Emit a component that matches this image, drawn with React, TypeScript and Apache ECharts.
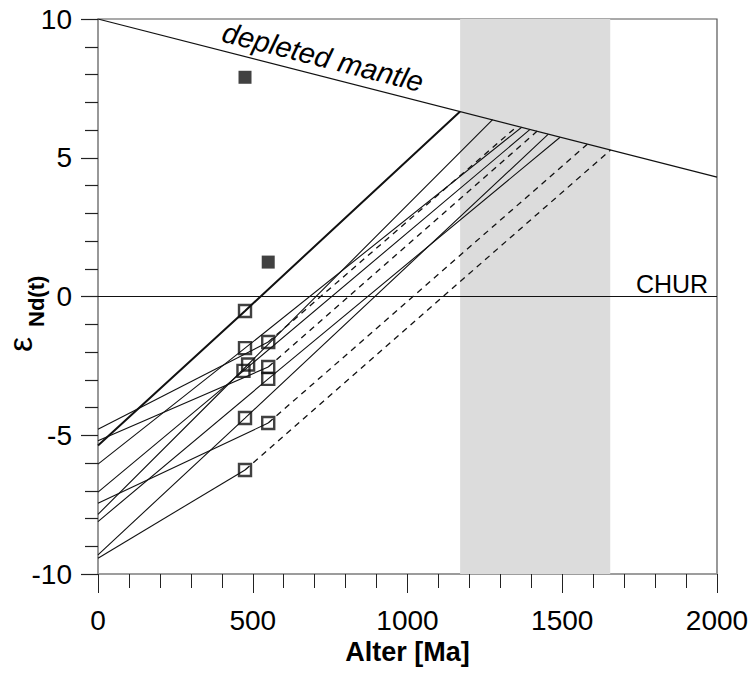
import React, { useEffect, useRef } from "react";
import * as echarts from "echarts";

// Sample data (Ma, epsilon Nd)
const sampleAges = [475, 475, 485, 470, 475, 475, 550, 550, 550, 550];
const sampleEpsT = [-0.52, -1.86, -2.45, -2.68, -4.38, -6.25, -1.64, -2.54, -2.97, -4.56];
const presentEps = [-5.37, -6.04, -7.85, -7.05, -9.31, -9.43, -4.78, -5.2, -8.11, -7.45];
const modelAges = [1170, 1369, 1275, 1396, 1455, 1656, 1355, 1419, 1493, 1581];
const modelEps = [6.67, 6.1, 6.37, 6.02, 5.85, 5.28, 6.14, 5.96, 5.74, 5.49];
const twoStage = [false, false, false, false, false, true, true, true, false, true];
const boldLine = [true, false, false, false, false, false, false, false, false, false];

const filledAges = [475, 550];
const filledEps = [7.9, 1.24];

const dmAges = [0, 2000];
const dmEps = [10, 4.3];
const churAges = [0, 2000];
const churEps = [0, 0];

const bandRange = [1170, 1655];

const xTicks = [0, 500, 1000, 1500, 2000];
const yTicks = [-10, -5, 0, 5, 10];

const FONT = "'Liberation Sans', Arial, sans-serif";

export default function App() {
  const ref = useRef<HTMLDivElement>(null);
  useEffect(() => {
    document.body.style.margin = "0";
    const chart = echarts.init(ref.current!, null, { renderer: "svg" });

    const series: any[] = [];
    series.push({
      type: "line",
      data: [],
      z: 0,
      silent: true,
      markArea: {
        silent: true,
        itemStyle: { color: "#dcdcdc" },
        data: [[{ xAxis: bandRange[0] }, { xAxis: bandRange[1] }]],
      },
    });
    series.push({
      type: "line",
      data: dmAges.map((a, i) => [a, dmEps[i]]),
      symbol: "none",
      lineStyle: { color: "#111", width: 1.2 },
      z: 3,
    });
    series.push({
      type: "line",
      data: churAges.map((a, i) => [a, churEps[i]]),
      symbol: "none",
      lineStyle: { color: "#111", width: 1.1 },
      z: 3,
    });
    sampleAges.forEach((t, i) => {
      const w = boldLine[i] ? 2 : 1.1;
      if (twoStage[i]) {
        series.push({
          type: "line",
          data: [[0, presentEps[i]], [t, sampleEpsT[i]]],
          symbol: "none",
          lineStyle: { color: "#111", width: w },
          z: 3,
        });
        series.push({
          type: "line",
          data: [[t, sampleEpsT[i]], [modelAges[i], modelEps[i]]],
          symbol: "none",
          lineStyle: { color: "#111", width: 1.3, type: [6, 5] },
          z: 3,
        });
      } else {
        series.push({
          type: "line",
          data: [[0, presentEps[i]], [t, sampleEpsT[i]], [modelAges[i], modelEps[i]]],
          symbol: "none",
          lineStyle: { color: "#111", width: w },
          z: 3,
        });
      }
    });
    series.push({
      type: "scatter",
      data: sampleAges.map((a, i) => [a, sampleEpsT[i]]),
      symbol: "rect",
      symbolSize: 12,
      itemStyle: { color: "rgba(255,255,255,0)", borderColor: "#111", borderWidth: 2.4 },
      z: 5,
    });
    series.push({
      type: "scatter",
      data: filledAges.map((a, i) => [a, filledEps[i]]),
      symbol: "rect",
      symbolSize: 13,
      itemStyle: { color: "#111" },
      z: 5,
    });

    const option: any = {
      animation: false,
      grid: {
        left: 98,
        right: 37,
        top: 19,
        bottom: 101,
        show: true,
        borderColor: "#555",
        borderWidth: 1.2,
        backgroundColor: "transparent",
      },
      xAxis: {
        type: "value",
        min: xTicks[0],
        max: xTicks[xTicks.length - 1],
        interval: 500,
        name: "Alter [Ma]",
        nameLocation: "middle",
        nameGap: 62,
        nameTextStyle: { fontFamily: FONT, fontSize: 27, fontWeight: "bold", color: "#000", verticalAlign: "top" },
        axisLine: { show: true, onZero: false, lineStyle: { color: "#999", width: 1.5 } },
        axisTick: { show: true, inside: false, length: 19, lineStyle: { color: "#222", width: 1 } },
        minorTick: { show: true, splitNumber: 5, length: 14, lineStyle: { color: "#222", width: 1 } },
        axisLabel: { fontFamily: FONT, fontSize: 28, color: "#000", margin: 32, formatter: (v: number) => String(v) },
        splitLine: { show: false },
      },
      yAxis: {
        type: "value",
        min: yTicks[0],
        max: yTicks[yTicks.length - 1],
        interval: 5,
        axisLine: { show: true, onZero: false, lineStyle: { color: "#999", width: 1.5 } },
        axisTick: { show: true, inside: false, length: 17, lineStyle: { color: "#222", width: 1.2 } },
        minorTick: { show: true, splitNumber: 5, length: 13, lineStyle: { color: "#222", width: 1.2 } },
        axisLabel: { fontFamily: FONT, fontSize: 28, color: "#000", margin: 26, formatter: (v: number) => String(v) },
        splitLine: { show: false },
      },
      graphic: [
        {
          type: "text",
          x: 323,
          y: 57,
          rotation: -0.25,
          z: 10,
          style: {
            text: "depleted mantle",
            fontFamily: FONT,
            fontSize: 29,
            fontStyle: "italic",
            fill: "#000",
            align: "center",
            verticalAlign: "middle",
          },
        },
        {
          type: "text",
          x: 672,
          y: 284,
          z: 10,
          style: {
            text: "CHUR",
            fontFamily: FONT,
            fontSize: 25,
            fill: "#000",
            align: "center",
            verticalAlign: "middle",
          },
        },
        {
          type: "group",
          x: 21,
          y: 352,
          rotation: Math.PI / 2,
          children: [
            {
              type: "text",
              x: 0,
              y: -1,
              style: { text: "ε", fontFamily: FONT, fontSize: 34, fill: "#000", align: "left", verticalAlign: "middle" },
            },
            {
              type: "text",
              x: 25,
              y: 15,
              style: {
                text: "Nd(t)",
                fontFamily: FONT,
                fontSize: 22,
                fontWeight: "bold",
                fill: "#000",
                align: "left",
                verticalAlign: "middle",
              },
            },
          ],
        },
      ],
      series,
    };
    chart.setOption(option);
    return () => chart.dispose();
  }, []);
  return <div ref={ref} style={{ width: 754, height: 675 }} />;
}
